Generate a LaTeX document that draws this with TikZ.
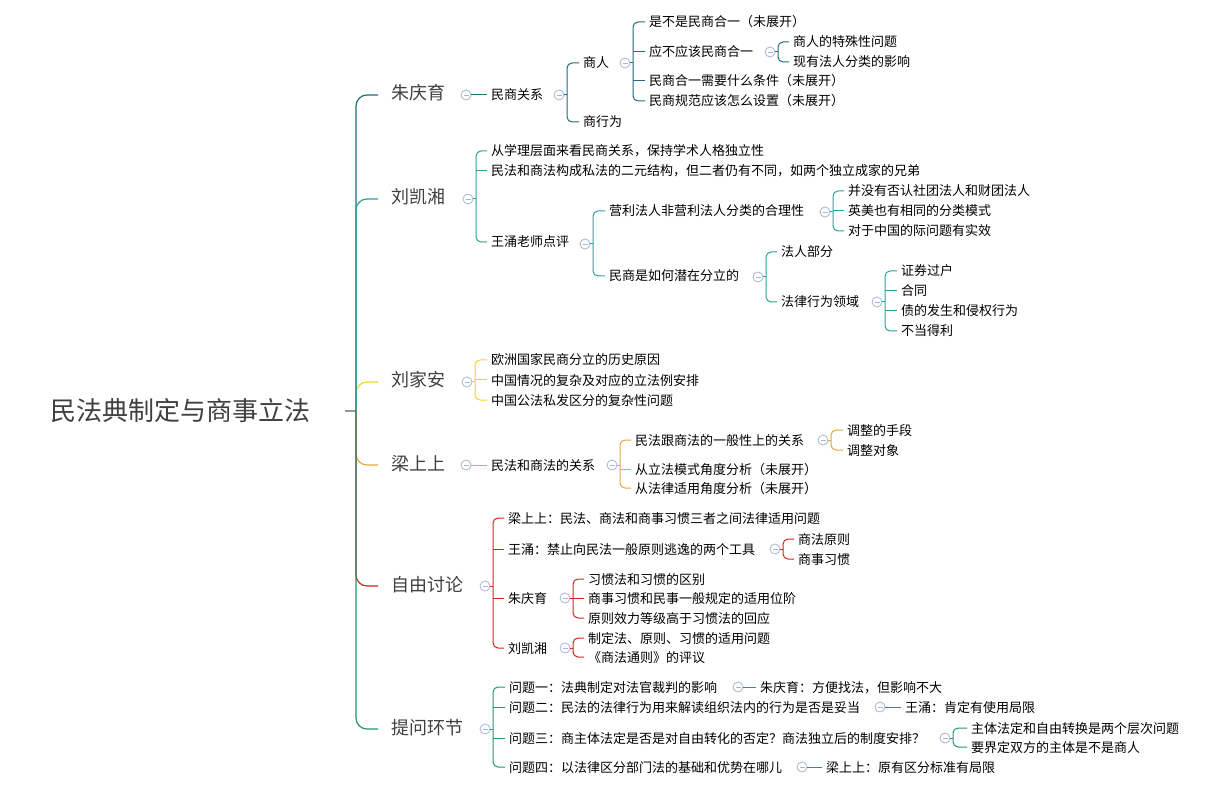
\documentclass[tikz,border=0pt]{standalone}
\usepackage{fontspec}
\setmainfont{Noto Sans CJK SC}
\usetikzlibrary{calc}

\definecolor{czhu}{RGB}{32,108,122}
\definecolor{cliuk}{RGB}{38,166,154}
\definecolor{cliuj}{RGB}{242,212,48}
\definecolor{cliang}{RGB}{226,168,64}
\definecolor{cziyou}{RGB}{214,34,34}
\definecolor{ctiwen}{RGB}{34,152,112}
\definecolor{ccirc}{RGB}{168,180,212}
\definecolor{lvtext}{RGB}{64,64,64}
\definecolor{rootln}{RGB}{150,150,150}

\tikzset{
 txt/.style={anchor=west, inner sep=0pt, text height=1.0em, text depth=0em},
 rootnode/.style={txt, font=\fontsize{26}{30}\selectfont, text=lvtext},
 lvone/.style={txt, font=\fontsize{18}{22}\selectfont, text=lvtext},
 leaf/.style={txt, font=\fontsize{13}{16}\selectfont, text=black},
 cc/.style={circle, draw=ccirc, fill=white, minimum size=10pt, inner sep=0pt, line width=0.8pt,
   path picture={\draw[ccirc, line width=0.8pt] ([xshift=-2.5pt]path picture bounding box.center) -- ([xshift=2.5pt]path picture bounding box.center);}},
 con/.style={line width=1pt, rounded corners=5pt},
 trunkline/.style={line width=1.2pt, rounded corners=11pt},
 rootline/.style={line width=1.2pt, draw=rootln},
}

% bracket: #1 colour, #2 circle node, #3 first child, #4 last child
\newcommand\mmbrk[4]{%
 \coordinate (b-#2) at ([xshift=8pt]#2.center);
 \draw[con,#1] (#2.east) -- (#2.east -| b-#2);
 \draw[con,#1] ([xshift=-4pt]#3.west) -- (#3.west -| b-#2) -- (#4.west -| b-#2) -- ([xshift=-4pt]#4.west);
}
% middle tick: #1 colour, #2 circle node, #3 child
\newcommand\mmtick[3]{%
 \draw[con,#1] (#3.west -| b-#2) -- ([xshift=-4pt]#3.west);
}
% single straight link: #1 colour, #2 circle, #3 child
\newcommand\mmline[3]{%
 \draw[con,#1] (#2.east) -- ([xshift=-4pt]#3.west);
}

\begin{document}
\begin{tikzpicture}[x=1pt,y=-1pt]
\fill[white] (0,0) rectangle (1208,794);
\useasboundingbox (0,0) rectangle (1208,794);

% root and level one
\node[rootnode] (root) at (50,415) {民法典制定与商事立法};
\node[lvone] (zhu) at (391,95) {朱庆育};
\node[lvone] (liuk) at (391,199) {刘凯湘};
\node[lvone] (liuj) at (391,382) {刘家安};
\node[lvone] (liang) at (391,465) {梁上上};
\node[lvone] (ziyou) at (391,586) {自由讨论};
\node[lvone] (tiwen) at (391,729) {提问环节};

\coordinate (tr) at (356,411);
\coordinate (rs) at ([xshift=35pt]root.east);
\draw[rootline] (rs |- tr) -- (tr);
\draw[trunkline,cliuj] (tr) |- ([xshift=-13pt]liuj.west);
\draw[trunkline,cliang] (tr) |- ([xshift=-13pt]liang.west);
\draw[trunkline,cziyou] (tr) |- ([xshift=-13pt]ziyou.west);
\draw[trunkline,czhu] (tr) |- ([xshift=-13pt]zhu.west);
\draw[trunkline,cliuk] (tr) |- ([xshift=-13pt]liuk.west);
\draw[trunkline,ctiwen] (tr) |- ([xshift=-13pt]tiwen.west);

% ---------- 朱庆育 ----------
\node[cc] (c-zhu) at (466,95) {};
\node[leaf] (mins) at (491,95) {民商关系};
\mmline{czhu}{c-zhu}{mins}
\node[cc] (c-mins) at (559,95) {};
\node[leaf] (shr) at (583,63) {商人};
\node[leaf] (shxw) at (583,122) {商行为};
\mmbrk{czhu}{c-mins}{shr}{shxw}
\node[cc] (c-shr) at (625,63) {};
\node[leaf] (q1) at (649,22) {是不是民商合一（未展开）};
\node[leaf] (q2) at (649,52) {应不应该民商合一};
\node[leaf] (q3) at (649,81) {民商合一需要什么条件（未展开）};
\node[leaf] (q4) at (649,101) {民商规范应该怎么设置（未展开）};
\mmbrk{czhu}{c-shr}{q1}{q4}
\mmtick{czhu}{c-shr}{q2}
\mmtick{czhu}{c-shr}{q3}
\node[cc] (c-q2) at (770,52) {};
\node[leaf] (q2a) at (793,42) {商人的特殊性问题};
\node[leaf] (q2b) at (793,62) {现有法人分类的影响};
\mmbrk{czhu}{c-q2}{q2a}{q2b}

% ---------- 刘凯湘 ----------
\node[cc] (c-liuk) at (468,199) {};
\node[leaf] (k1) at (491,151) {从学理层面来看民商关系，保持学术人格独立性};
\node[leaf] (k2) at (491,171) {民法和商法构成私法的二元结构，但二者仍有不同，如两个独立成家的兄弟};
\node[leaf] (k3) at (491,242) {王涌老师点评};
\mmbrk{cliuk}{c-liuk}{k1}{k3}
\mmtick{cliuk}{c-liuk}{k2}
\node[cc] (c-k3) at (585,244) {};
\node[leaf] (y1) at (609,211) {营利法人非营利法人分类的合理性};
\node[leaf] (y2) at (609,276) {民商是如何潜在分立的};
\mmbrk{cliuk}{c-k3}{y1}{y2}
\node[cc] (c-y1) at (825,212) {};
\node[leaf] (y1a) at (848,191) {并没有否认社团法人和财团法人};
\node[leaf] (y1b) at (848,211) {英美也有相同的分类模式};
\node[leaf] (y1c) at (848,231) {对于中国的际问题有实效};
\mmbrk{cliuk}{c-y1}{y1a}{y1c}
\mmtick{cliuk}{c-y1}{y1b}
\node[cc] (c-y2) at (758,277) {};
\node[leaf] (fr) at (781,252) {法人部分};
\node[leaf] (fl) at (781,302) {法律行为领域};
\mmbrk{cliuk}{c-y2}{fr}{fl}
\node[cc] (c-fl) at (877,302) {};
\node[leaf] (fl1) at (901,271) {证券过户};
\node[leaf] (fl2) at (901,291) {合同};
\node[leaf] (fl3) at (901,311) {债的发生和侵权行为};
\node[leaf] (fl4) at (901,331) {不当得利};
\mmbrk{cliuk}{c-fl}{fl1}{fl4}
\mmtick{cliuk}{c-fl}{fl2}
\mmtick{cliuk}{c-fl}{fl3}

% ---------- 刘家安 ----------
\node[cc] (c-liuj) at (467,382) {};
\node[leaf] (j1) at (491,360) {欧洲国家民商分立的历史原因};
\node[leaf] (j2) at (491,380) {中国情况的复杂及对应的立法例安排};
\node[leaf] (j3) at (491,400) {中国公法私发区分的复杂性问题};
\mmbrk{cliuj}{c-liuj}{j1}{j3}
\mmtick{cliuj}{c-liuj}{j2}

% ---------- 梁上上 ----------
\node[cc] (c-liang) at (466,465) {};
\node[leaf] (ll) at (491,465) {民法和商法的关系};
\mmline{cliang}{c-liang}{ll}
\node[cc] (c-ll) at (612,465) {};
\node[leaf] (lg) at (635,440) {民法跟商法的一般性上的关系};
\node[leaf] (lm) at (635,469) {从立法模式角度分析（未展开）};
\node[leaf] (lf) at (635,488) {从法律适用角度分析（未展开）};
\mmbrk{cliang}{c-ll}{lg}{lf}
\mmtick{cliang}{c-ll}{lm}
\node[cc] (c-lg) at (823,440) {};
\node[leaf] (lg1) at (847,430) {调整的手段};
\node[leaf] (lg2) at (847,450) {调整对象};
\mmbrk{cliang}{c-lg}{lg1}{lg2}

% ---------- 自由讨论 ----------
\node[cc] (c-ziyou) at (485,586) {};
\node[leaf] (z1) at (508,518) {梁上上：民法、商法和商事习惯三者之间法律适用问题};
\node[leaf] (z2) at (508,549) {王涌：禁止向民法一般原则逃逸的两个工具};
\node[leaf] (z3) at (508,598) {朱庆育};
\node[leaf] (z4) at (508,648) {刘凯湘};
\mmbrk{cziyou}{c-ziyou}{z1}{z4}
\mmtick{cziyou}{c-ziyou}{z2}
\mmtick{cziyou}{c-ziyou}{z3}
\node[cc] (c-z2) at (775,549) {};
\node[leaf] (z2a) at (798,539) {商法原则};
\node[leaf] (z2b) at (798,559) {商事习惯};
\mmbrk{cziyou}{c-z2}{z2a}{z2b}
\node[cc] (c-z3) at (565,598) {};
\node[leaf] (z3a) at (588,579) {习惯法和习惯的区别};
\node[leaf] (z3b) at (588,598) {商事习惯和民事一般规定的适用位阶};
\node[leaf] (z3c) at (588,618) {原则效力等级高于习惯法的回应};
\mmbrk{cziyou}{c-z3}{z3a}{z3c}
\mmtick{cziyou}{c-z3}{z3b}
\node[cc] (c-z4) at (565,648) {};
\node[leaf] (z4a) at (588,638) {制定法、原则、习惯的适用问题};
\node[leaf] (z4b) at (588,657) {《商法通则》的评议};
\mmbrk{cziyou}{c-z4}{z4a}{z4b}

% ---------- 提问环节 ----------
\node[cc] (c-tiwen) at (485,729) {};
\node[leaf] (w1) at (509,687) {问题一：法典制定对法官裁判的影响};
\node[leaf] (w2) at (509,707) {问题二：民法的法律行为用来解读组织法内的行为是否是妥当};
\node[leaf] (w3) at (509,738) {问题三：商主体法定是否是对自由转化的否定？商法独立后的制度安排？};
\node[leaf] (w4) at (509,767) {问题四：以法律区分部门法的基础和优势在哪儿};
\mmbrk{ctiwen}{c-tiwen}{w1}{w4}
\mmtick{ctiwen}{c-tiwen}{w2}
\mmtick{ctiwen}{c-tiwen}{w3}
\node[cc] (c-w1) at (738,687) {};
\node[leaf] (w1a) at (760,687) {朱庆育：方便找法，但影响不大};
\mmline{ctiwen}{c-w1}{w1a}
\node[cc] (c-w2) at (880,707) {};
\node[leaf] (w2a) at (905,707) {王涌：肯定有使用局限};
\mmline{ctiwen}{c-w2}{w2a}
\node[cc] (c-w3) at (945,738) {};
\node[leaf] (w3a) at (971,728) {主体法定和自由转换是两个层次问题};
\node[leaf] (w3b) at (971,747) {要界定双方的主体是不是商人};
\mmbrk{ctiwen}{c-w3}{w3a}{w3b}
\node[cc] (c-w4) at (802,767) {};
\node[leaf] (w4a) at (826,767) {梁上上：原有区分标准有局限};
\mmline{ctiwen}{c-w4}{w4a}
\end{tikzpicture}
\end{document}
